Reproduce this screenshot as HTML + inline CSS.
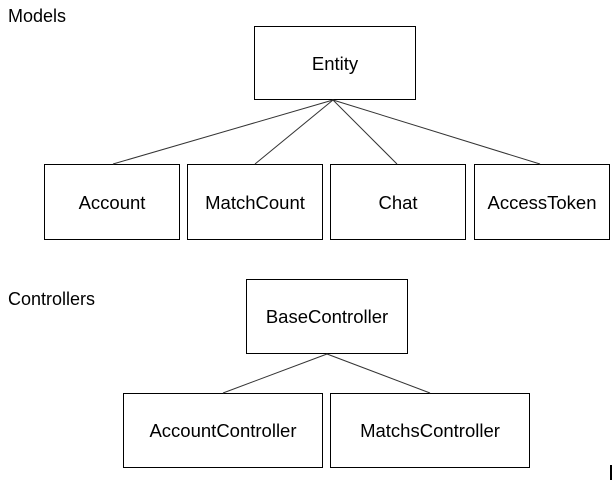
<!DOCTYPE html>
<html><head><meta charset="utf-8"><style>
html,body{margin:0;padding:0;background:#fff;width:612px;height:489px;overflow:hidden}
svg text{font-family:"Liberation Sans",Arial,sans-serif;fill:#000}
</style></head><body>
<svg width="612" height="489" xmlns="http://www.w3.org/2000/svg">
<g fill="#fff" stroke="#000" stroke-width="1">
<rect x="254.5" y="26.5" width="161" height="73"/>
<rect x="44.5" y="164.5" width="135" height="75"/>
<rect x="187.5" y="164.5" width="135" height="75"/>
<rect x="330.5" y="164.5" width="135" height="75"/>
<rect x="474.5" y="164.5" width="135" height="75"/>
<rect x="246.5" y="279.5" width="161" height="74"/>
<rect x="123.5" y="393.5" width="199" height="74"/>
<rect x="330.5" y="393.5" width="199" height="74"/>
</g>
<g stroke="#333" stroke-width="1" fill="none">
<line x1="333" y1="100" x2="113" y2="164"/>
<line x1="333" y1="100" x2="255" y2="164"/>
<line x1="333" y1="100" x2="397" y2="164"/>
<line x1="333" y1="100" x2="540" y2="164"/>
<line x1="327" y1="354" x2="223" y2="393"/>
<line x1="327" y1="354" x2="430" y2="393"/>
</g>
<rect x="610" y="465" width="2" height="15" fill="#000"/>
<g font-size="18">
<text x="8" y="22">Models</text>
<text x="8" y="305">Controllers</text>
</g>
<g font-size="18.5" text-anchor="middle">
<text x="335" y="70">Entity</text>
<text x="112" y="209">Account</text>
<text x="255" y="209">MatchCount</text>
<text x="398" y="209">Chat</text>
<text x="542" y="209">AccessToken</text>
<text x="327" y="323">BaseController</text>
<text x="223" y="437">AccountController</text>
<text x="430" y="437">MatchsController</text>
</g>
</svg>
</body></html>
